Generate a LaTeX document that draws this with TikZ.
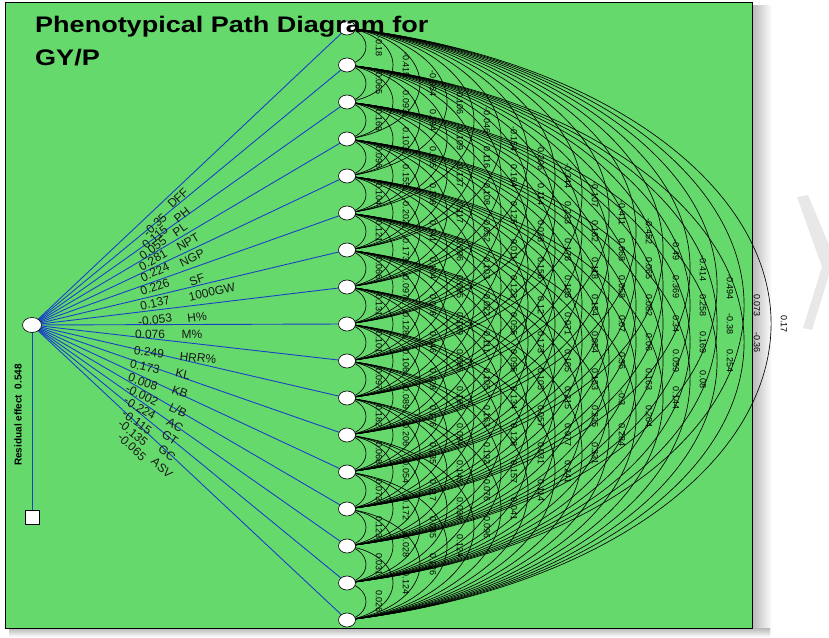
\documentclass[tikz,border=0pt]{standalone}
\usepackage{fontspec}
\setmainfont{Liberation Sans}
\usetikzlibrary{shapes.geometric}
\pgfdeclarelayer{back}
\pgfdeclarelayer{bg}
\pgfsetlayers{back,bg,main}
\definecolor{plotgreen}{RGB}{102,217,108}
\definecolor{pathblue}{RGB}{25,65,200}
\tikzset{
  circ/.style={ellipse, draw=black, fill=white, minimum width=17pt, minimum height=14pt, inner sep=0pt, line width=0.6pt},
  resbox/.style={rectangle, draw=black, fill=white, minimum size=14pt, inner sep=0pt, line width=0.6pt},
  pathline/.style={draw=pathblue, line width=0.9pt},
  corrarc/.style={draw=black, line width=0.65pt},
  coeflab/.style={font=\fontsize{12}{12}\selectfont, inner sep=0pt, text=black!90},
  corrlab/.style={font=\fontsize{9}{9}\selectfont, rotate=-90, inner sep=0pt},
  titlelab/.style={font=\bfseries\fontsize{22.5}{22.5}\selectfont, inner sep=0pt, anchor=base west, xscale=1.2},
}
\begin{document}
\begin{tikzpicture}[x=1pt,y=1pt]
\useasboundingbox (0,0) rectangle (829,637);
\begin{pgfonlayer}{back}
\shade[left color=black!28, right color=white] (752,4) rectangle (772,631);
\shade[top color=black!28, bottom color=white] (9,9) rectangle (770,0);
\draw[fill=plotgreen, draw=black, line width=1pt] (5,9) rectangle (752,634);
\fill[black!9] (797,440) -- (808,442) -- (829,392) -- (829,362) -- (812,307) -- (803,309) -- (822,370) -- cycle;
\end{pgfonlayer}
% left nodes
\node[circ, minimum width=19pt, minimum height=15pt] (L) at (32,312) {};
\node[resbox] (R) at (32,120) {};
\node[font=\bfseries\fontsize{10}{10}\selectfont, rotate=90, inner sep=0pt] (reslab) at (18,222) {Residual effect\ \ 0.548};
% right nodes
\foreach \i in {1,...,17} {
  \pgfmathsetmacro{\yy}{637-(28+37*(\i-1))}
  \node[circ] (r\i) at (347,\yy) {};
}
% title
\node[titlelab] (title1) at (35,604) {Phenotypical Path Diagram for};
\node[titlelab] (title2) at (35,571) {GY/P};
\begin{pgfonlayer}{bg}
\draw[pathline] (L.center) -- (R.center);
\foreach \i in {1,...,17} { \draw[pathline] (L.center) -- (r\i.center); }
% correlation arcs: elliptic arcs, centre slightly left of the circles
\pgfmathsetmacro{\phiz}{acos(0.2)}
\foreach \i in {1,...,16} {
  \pgfmathtruncatemacro{\js}{\i+1}
  \foreach \j in {\js,...,17} {
    \pgfmathsetmacro{\ea}{1.25*(27*(\j-\i)-8)}
    \pgfmathsetmacro{\eb}{18.5*(\j-\i)/sqrt(0.96)}
    \draw[corrarc] (r\i.center) arc[start angle=\phiz, end angle=-\phiz, x radius=\ea, y radius=\eb];
  }
}
\end{pgfonlayer}
% path coefficients
\foreach \c/\n/\cx/\cy/\nx/\ny [count=\i] in {
 -0.35/DFF/155/225/178/198,
 0.115/PH/155/237/182/215,
 0.055/PL/153/248/180/230,
 0.281/NPT/153/260/188/242,
 0.224/NGP/155/272/192/258,
 0.226/SF/155/287/197/280,
 0.137/1000GW/155/303/212/292,
 -0.053/H\%/155/320/197/317,
 0.076/M\%/150/334/192/334,
 0.249/HRR\%/149/352/198/358,
 0.173/KL/145/367/183/374,
 0.008/KB/143/382/180/392,
 -0.002/{L/B}/142/395/178/410,
 -0.224/AC/140/408/175/425,
 -0.115/GT/137/422/170/438,
 -0.135/GC/133/433/167/453,
 -0.065/ASV/132/447/162/468} {
  \pgfmathsetmacro{\ang}{atan((325-(28+37*(\i-1)))/315)}
  \node[coeflab, rotate=\ang] (c\i) at (\cx,637-\cy) {\c};
  \node[coeflab, rotate=\ang] (n\i) at (\nx,637-\ny) {\n};
}
% correlation labels
\foreach \k/\vals in {
 1/{-0.18,0.065,0.169,0.096,0.104,0.121,0.066,0.131,0.101,0.097,0.182,0.068,0.073,0.123,0.031,0.026},
 2/{-0.415,0.093,0.103,0.155,0.202,0.173,0.097,0.128,0.106,0.089,0.206,0.054,0.172,0.028,0.124},
 3/{-0.054,0.194,0.185,0.108,0.141,0.104,0.078,0.046,0.128,0.176,0.135,0.117,0.035,0.126},
 4/{-0.106,0.109,0.137,0.117,0.006,0.085,0.109,0.085,0.165,0.094,0.145,0.038,0.124},
 5/{-0.046,0.116,0.108,0.052,0.103,0.022,0.111,0.105,0.163,0.192,0.076,0.096},
 6/{-0.154,0.164,0.125,0.011,0.123,0.055,0.095,0.134,0.128,0.157,0.041},
 7/{-0.206,0.114,0.028,0.156,0.12,0.173,0.105,0.057,0.031,0.114},
 8/{-0.344,0.233,0.176,0.105,0.071,0.105,0.215,0.077,0.241},
 9/{-0.107,0.162,0.118,0.154,0.054,0.153,0.235,0.331},
 10/{-0.411,0.068,0.058,0.07,0.36,-0.3,0.284},
 11/{-0.452,0.065,0.082,0.06,0.163,0.204},
 12/{-0.49,0.369,0.34,0.059,0.144},
 13/{-0.414,0.258,0.169,0.08},
 14/{-0.494,-0.38,0.254},
 15/{0.073,-0.36},
 16/{0.17}} {
  \foreach \v [count=\i] in \vals {
    \pgfmathsetmacro{\lx}{347+27*\k+5}
    \pgfmathsetmacro{\ly}{637-(28+37*(\i-1)+18.5*\k)}
    \node[corrlab] (k\k-\i) at (\lx,\ly) {\v};
  }
}
\end{tikzpicture}
\end{document}
